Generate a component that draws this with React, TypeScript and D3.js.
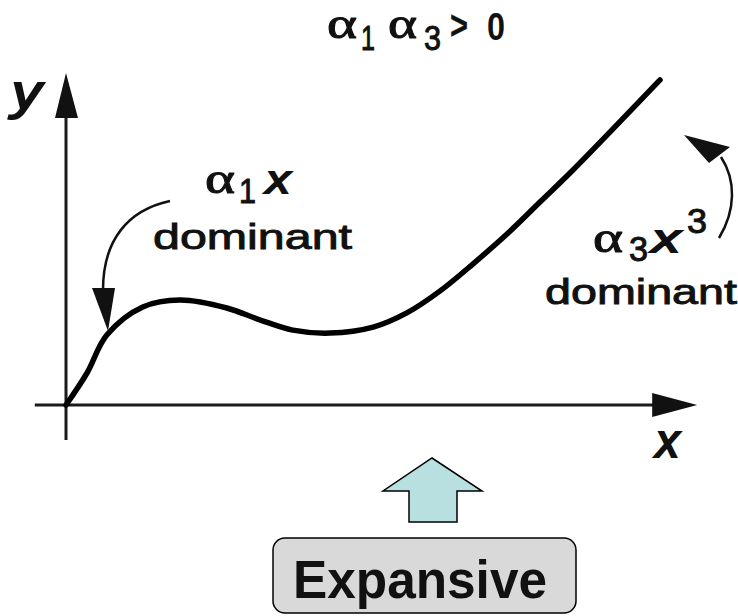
import React, { useEffect } from "react";
import * as d3 from "d3";

// Curve samples (data units): x in [0,100], y in [0,100]
const curveX = [0, 3.5, 6.8, 12.8, 19, 26.8, 32.3, 37.8, 44, 51.2, 56.8, 62.3, 67.8, 73.5, 79, 84.5, 99];
const curveY = [0, 9.7, 21.2, 29.7, 31.8, 29.4, 25.8, 22.7, 21.8, 23.6, 27.9, 34.5, 42.7, 51.8, 61.5, 71.2, 98.5];

const title = ["α", "1", "α", "3", ">", "0"];
const leftLabel = ["α", "1", "x", "dominant"];
const rightLabel = ["α", "3", "x", "3", "dominant"];
const axisLabels = ["x", "y"];
const boxLabel = "Expansive";

const W = 738;
const H = 616;

export default function App() {
  useEffect(() => {
    document.body.style.margin = "0";
  }, []);

  const xScale = d3.scaleLinear().domain([0, 100]).range([66, 666]);
  const yScale = d3.scaleLinear().domain([0, 100]).range([405, 75]);

  const pts: [number, number][] = curveX.map((x, i) => [x, curveY[i]]);
  const line = d3
    .line<[number, number]>()
    .x((d) => xScale(d[0]))
    .y((d) => yScale(d[1]))
    .curve(d3.curveCatmullRom.alpha(0.5));

  const ox = xScale(0);
  const oy = yScale(0);
  const xMin = xScale(-5.2);
  const xTip = xScale(105.2);
  const yMin = yScale(-10.6);
  const yTip = yScale(100.6);

  const serif = "'Liberation Serif', 'DejaVu Serif', serif";
  const sans = "'Liberation Sans', Arial, sans-serif";

  const T = (
    key: string,
    s: string,
    x: number,
    y: number,
    size: number,
    width: number | null,
    family: string,
    opts: { italic?: boolean; bold?: boolean; sw?: number } = {}
  ) => (
    <text
      key={key}
      x={x}
      y={y}
      fontSize={size}
      fontFamily={family}
      fontStyle={opts.italic ? "italic" : "normal"}
      fontWeight={opts.bold ? "bold" : "normal"}
      fill="#111"
      stroke="#111"
      strokeWidth={opts.sw ?? 0.7}
      {...(width ? { textLength: width, lengthAdjust: "spacingAndGlyphs" } : {})}
    >
      {s}
    </text>
  );

  return (
    <svg width={W} height={H} style={{ position: "absolute", left: 0, top: 0, background: "#fff" }}>
      {/* axes */}
      <line x1={xMin} y1={oy} x2={xTip - 44} y2={oy} stroke="#1a1a1a" strokeWidth={3} />
      <polygon points={`${xTip},${oy} ${xTip - 45},${oy - 12} ${xTip - 45},${oy + 12}`} fill="#111" />
      <line x1={ox} y1={yMin} x2={ox} y2={yTip + 44} stroke="#1a1a1a" strokeWidth={3} />
      <polygon points={`${ox},${yTip} ${ox - 11},${yTip + 45} ${ox + 12},${yTip + 45}`} fill="#111" />

      {/* curve */}
      <path d={line(pts) || ""} fill="none" stroke="#000" strokeWidth={5.5} strokeLinecap="round" />

      {/* left curved arrow */}
      <path d="M170,201 C128,210 103,240 103,290" fill="none" stroke="#111" strokeWidth={2.5} />
      <polygon points="92,288 115,288 108,331" fill="#111" />

      {/* right curved arrow */}
      <path d="M719,238 C736,210 736,180 721,157" fill="none" stroke="#111" strokeWidth={2.5} />
      <polygon points="684,135 709,163 730,147" fill="#111" />

      {/* title */}
      {T("t0", title[0], 327, 38, 44, 30, serif, { sw: 1 })}
      {T("t1", title[1], 361, 50, 35, 14, sans, { sw: 1 })}
      {T("t2", title[2], 388, 38, 44, 29, serif, { sw: 1 })}
      {T("t3", title[3], 424, 50, 35, 17, sans, { sw: 1 })}
      {T("t4", title[4], 450, 39, 40, 18, sans, { bold: true, sw: 0.3 })}
      {T("t5", title[5], 487, 40, 38, 18, sans, { bold: true, sw: 0 })}

      {/* left label */}
      {T("l0", leftLabel[0], 205, 193, 44, 30, serif, { sw: 1 })}
      {T("l1", leftLabel[1], 239, 203, 35, 17, sans, { sw: 1 })}
      {T("l2", leftLabel[2], 266, 193, 38, 24, sans, { italic: true, sw: 1.8 })}
      {T("l3", leftLabel[3], 153, 249, 35, 199, sans, { sw: 0.9 })}

      {/* right label */}
      {T("r0", rightLabel[0], 593, 252, 44, 30, serif, { sw: 1 })}
      {T("r1", rightLabel[1], 629, 261, 35, 19, sans, { sw: 1 })}
      {T("r2", rightLabel[2], 652, 252, 38, 28, sans, { italic: true, sw: 1.8 })}
      {T("r3", rightLabel[3], 687, 233, 35, 20, sans, { sw: 1 })}
      {T("r4", rightLabel[4], 545, 304, 35, 192, sans, { sw: 0.9 })}

      {/* axis labels */}
      {T("ax", axisLabels[0], 656, 457, 46, 23, sans, { italic: true, sw: 2.2 })}
      {T("ay", axisLabels[1], 12, 109, 48, 29, sans, { italic: true, sw: 2.2 })}

      {/* up arrow */}
      <polygon
        points="432,458 482,491 457,491 457,522 409,522 409,491 383,491"
        fill="#b9e0e0"
        stroke="#000"
        strokeWidth={1.5}
        strokeLinejoin="miter"
      />

      {/* box */}
      <rect x={273} y={538} width={303} height={75} rx={12} ry={12} fill="#d9d9d9" stroke="#000" strokeWidth={1.5} />
      {T("bx", boxLabel, 293, 598, 53, 254, sans, { bold: true, sw: 0 })}
    </svg>
  );
}
